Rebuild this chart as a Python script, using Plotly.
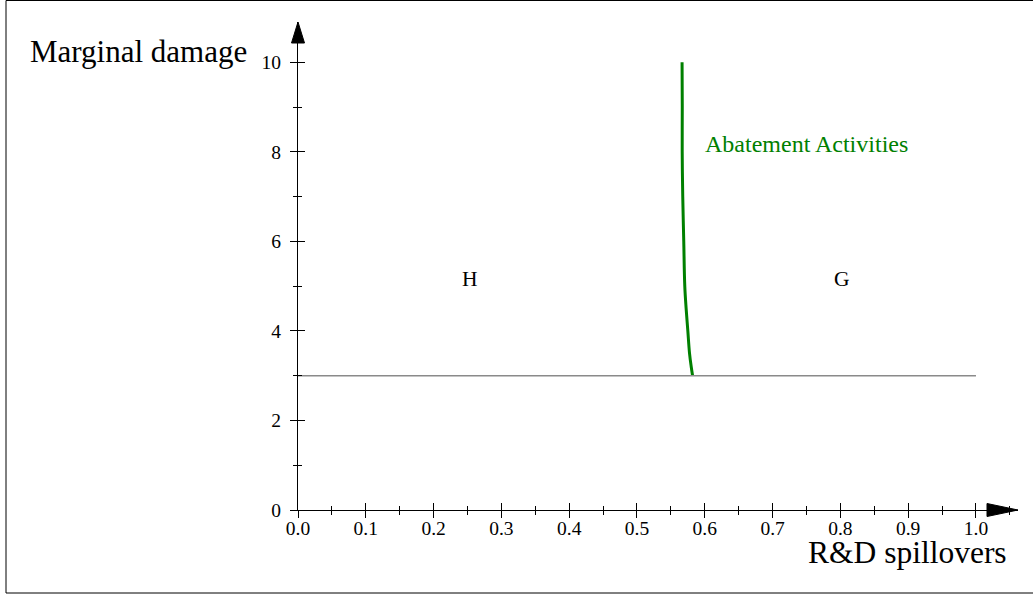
import plotly.graph_objects as go

# ---- data ----
abate_y = [10, 9, 8, 7, 6, 5, 4.5, 4, 3.5, 3.2, 3.0]
abate_x = [0.5665, 0.5668, 0.5667, 0.5675, 0.569, 0.5705, 0.5725, 0.575, 0.5775, 0.5800, 0.582]
thresh_x = [0.0, 1.0]
thresh_y = [3.0, 3.0]
region_labels = ["H", "G"]
region_x = [0.253, 0.803]
region_y = [5.15, 5.15]
curve_label = "Abatement Activities"
curve_label_pos = (0.598, 8.17)
x_title = "R&D spillovers"
y_title = "Marginal damage"

# ---- layout geometry ----
W, H = 1033, 596
L, T = 298, 22
PW, PH = 720, 488
XR = [0, 1.062]
YR = [0, 10.9]

def px(p):
    return (p - L) / PW

def py(p):
    return (T + PH - p) / PH

FONT = "Liberation Serif, Times New Roman, serif"

fig = go.Figure()
fig.add_trace(go.Scatter(x=thresh_x, y=thresh_y, mode="lines",
                         line=dict(color="#8a8a8a", width=1.5),
                         xaxis="x2", yaxis="y2", hoverinfo="skip", showlegend=False))
fig.add_trace(go.Scatter(x=abate_x, y=abate_y, mode="lines",
                         line=dict(color="#008000", width=3, shape="spline"),
                         hoverinfo="skip", showlegend=False))

ann = []
for t, xx, yy in zip(region_labels, region_x, region_y):
    ann.append(dict(x=xx, y=yy, xref="x", yref="y", text=t, showarrow=False,
                    font=dict(family=FONT, size=21.5, color="black"),
                    xanchor="center", yanchor="middle"))
ann.append(dict(x=curve_label_pos[0], y=curve_label_pos[1], xref="x", yref="y",
                text=curve_label, showarrow=False,
                font=dict(family=FONT, size=24, color="#008000"),
                xanchor="left", yanchor="middle"))
ann.append(dict(x=px(28), y=py(51), xref="paper", yref="paper", text=y_title,
                showarrow=False, font=dict(family=FONT, size=31, color="black"),
                xanchor="left", yanchor="middle"))
ann.append(dict(x=px(1009), y=py(552), xref="paper", yref="paper", text=x_title,
                showarrow=False, font=dict(family=FONT, size=31.5, color="black"),
                xanchor="right", yanchor="middle"))

shapes = [
    # x-axis arrowhead
    dict(type="path", xref="paper", yref="paper",
         path=f"M {px(987)},{py(503.5)} L {px(1018)},{py(510)} L {px(987)},{py(516.5)} Z",
         fillcolor="black", line=dict(color="black", width=1)),
    # y-axis arrowhead
    dict(type="path", xref="paper", yref="paper",
         path=f"M {px(291.5)},{py(43)} L {px(298)},{py(22)} L {px(304.5)},{py(43)} Z",
         fillcolor="black", line=dict(color="black", width=1)),
    # frame (top, left, bottom)
    dict(type="line", xref="paper", yref="paper", x0=px(6), x1=px(1060), y0=py(0.5), y1=py(0.5),
         line=dict(color="black", width=1)),
    dict(type="line", xref="paper", yref="paper", x0=px(6), x1=px(6), y0=py(0.5), y1=py(593),
         line=dict(color="black", width=1)),
    dict(type="line", xref="paper", yref="paper", x0=px(6), x1=px(1060), y0=py(593), y1=py(593),
         line=dict(color="black", width=1)),
]

axis_common = dict(showgrid=False, zeroline=False, linecolor="black", linewidth=1.3,
                   tickcolor="black", tickwidth=1)

fig.update_layout(
    width=W, height=H,
    margin=dict(l=L, r=W - L - PW, t=T, b=H - T - PH),
    paper_bgcolor="white", plot_bgcolor="white",
    showlegend=False,
    xaxis=dict(range=XR, showline=True, ticks="inside", ticklen=7, dtick=0.1, tick0=0,
               tickformat=".1f", tickfont=dict(family=FONT, size=19.5, color="black"),
               minor=dict(dtick=0.05, ticks="inside", ticklen=3.5, tickcolor="black", tickwidth=1),
               **axis_common),
    yaxis=dict(range=YR, showline=True, ticks="outside", ticklen=7, dtick=2, tick0=0,
               tickfont=dict(family=FONT, size=19.5, color="black"), ticklabelstandoff=5,
               minor=dict(dtick=1, ticks="outside", ticklen=4, tickcolor="black", tickwidth=1),
               **axis_common),
    xaxis2=dict(range=XR, overlaying="x", anchor="y2", side="bottom", showline=False,
                ticks="outside", ticklen=7, dtick=0.1, tick0=0, showticklabels=False,
                minor=dict(dtick=0.05, ticks="outside", ticklen=3.5, tickcolor="black", tickwidth=1),
                **axis_common),
    yaxis2=dict(range=YR, overlaying="y", anchor="x2", side="left", showline=False,
                ticks="inside", ticklen=7, dtick=2, tick0=0, showticklabels=False,
                minor=dict(dtick=1, ticks="inside", ticklen=4, tickcolor="black", tickwidth=1),
                **axis_common),
    annotations=ann,
    shapes=shapes,
)

fig.write_html("out.html", config={"displayModeBar": False},
               post_script="document.body.style.margin='0';")
